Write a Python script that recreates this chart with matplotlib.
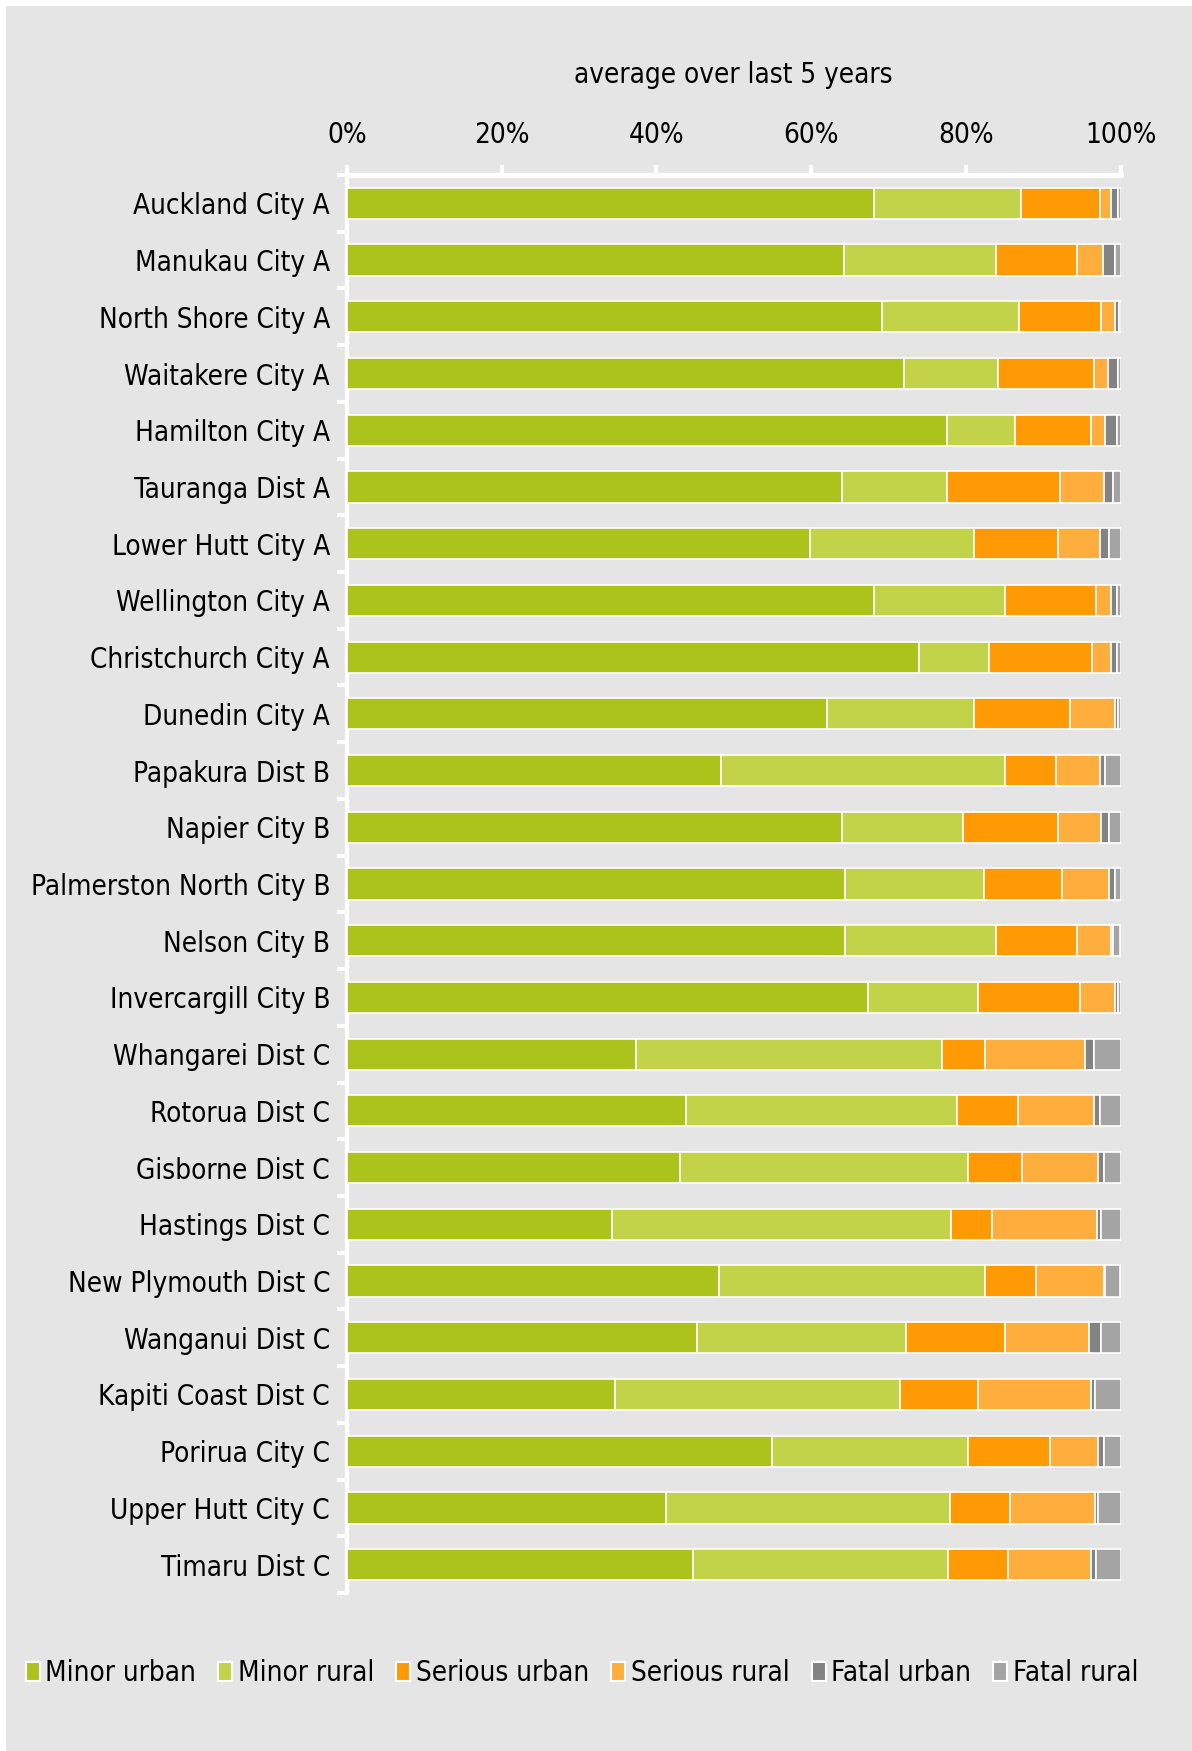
import numpy as np
import matplotlib
matplotlib.use("Agg")
import matplotlib.pyplot as plt
from matplotlib import font_manager as fm
from matplotlib.patches import Patch, Rectangle

# ---------------- data ----------------
categories = [
    "Auckland City A", "Manukau City A", "North Shore City A", "Waitakere City A",
    "Hamilton City A", "Tauranga Dist A", "Lower Hutt City A", "Wellington City A",
    "Christchurch City A", "Dunedin City A", "Papakura Dist B", "Napier City B",
    "Palmerston North City B", "Nelson City B", "Invercargill City B",
    "Whangarei Dist C", "Rotorua Dist C", "Gisborne Dist C", "Hastings Dist C",
    "New Plymouth Dist C", "Wanganui Dist C", "Kapiti Coast Dist C",
    "Porirua City C", "Upper Hutt City C", "Timaru Dist C",
]
minor_urban = [68.1, 64.2, 69.1, 72.0, 77.6, 64.0, 59.8, 68.1, 73.9, 62.0,
               48.3, 64.0, 64.4, 64.4, 67.4, 37.4, 43.8, 43.1, 34.3, 48.1,
               45.3, 34.7, 55.0, 41.2, 44.7]
minor_rural = [19.0, 19.7, 17.7, 12.1, 8.8, 13.6, 21.2, 17.0, 9.1, 19.0,
               36.7, 15.6, 17.9, 19.5, 14.1, 39.5, 35.1, 37.2, 43.8, 34.4,
               26.9, 36.8, 25.3, 36.7, 33.0]
serious_urban = [10.2, 10.5, 10.7, 12.5, 9.8, 14.6, 10.9, 11.7, 13.3, 12.4,
                 6.7, 12.3, 10.1, 10.5, 13.3, 5.6, 7.8, 6.9, 5.3, 6.5,
                 12.9, 10.0, 10.6, 7.8, 7.7]
serious_rural = [1.4, 3.3, 1.7, 1.8, 1.8, 5.6, 5.4, 1.9, 2.5, 5.8,
                 5.6, 5.6, 6.1, 4.4, 4.4, 12.9, 9.9, 9.9, 13.5, 8.8,
                 10.8, 14.7, 6.2, 11.0, 10.8]
fatal_urban = [1.0, 1.5, 0.6, 1.3, 1.5, 1.2, 1.2, 0.8, 0.7, 0.5,
               0.7, 1.0, 0.8, 0.2, 0.5, 1.1, 0.7, 0.7, 0.6, 0.2,
               1.5, 0.5, 0.7, 0.4, 0.6]
fatal_rural = [0.3, 0.8, 0.2, 0.3, 0.5, 1.0, 1.5, 0.5, 0.5, 0.3,
               2.0, 1.5, 0.7, 0.9, 0.3, 3.5, 2.7, 2.2, 2.5, 1.9,
               2.6, 3.3, 2.2, 2.9, 3.2]
series_names = ["Minor urban", "Minor rural", "Serious urban",
                "Serious rural", "Fatal urban", "Fatal rural"]
series_colors = ["#acc31c", "#c2d249", "#ff9a05", "#ffad3c", "#838383", "#a4a4a4"]
x_ticks = [0, 20, 40, 60, 80, 100]
x_tick_labels = ["0%", "20%", "40%", "60%", "80%", "100%"]
title_text = "average over last 5 years"

# ---------------- fonts ----------------
names = {f.name for f in fm.fontManager.ttflist}
if "Liberation Sans Narrow" in names:
    FAMILY = ["Liberation Sans Narrow", "DejaVu Sans"]
    FS = 22
    STRETCH = "normal"
else:
    FAMILY = ["DejaVu Sans"]
    cond = any(f.name == "DejaVu Sans" and str(f.stretch) in ("condensed", "semi-condensed")
               for f in fm.fontManager.ttflist)
    STRETCH = "condensed" if cond else "normal"
    FS = 20 if cond else 18
plt.rcParams["font.family"] = FAMILY
plt.rcParams["font.stretch"] = STRETCH

# ---------------- figure ----------------
W, H = 1192, 1751
fig = plt.figure(figsize=(W / 100, H / 100), dpi=100)
fig.patch.set_facecolor("white")
BG = "#e5e5e5"
fig.add_artist(Rectangle((6 / W, 0), 1 - 6 / W, 1 - 6 / H, transform=fig.transFigure,
                         facecolor=BG, edgecolor="none", zorder=-10))

x0, x1 = 346.7, 1120.7
y_top, y_bot = 175.0, 1593.0
ax = fig.add_axes([x0 / W, 1 - y_bot / H, (x1 - x0) / W, (y_bot - y_top) / H])
ax.set_facecolor(BG)

series = [minor_urban, minor_rural, serious_urban, serious_rural, fatal_urban, fatal_rural]
ypos = np.arange(len(categories))
left = np.zeros(len(categories))
for vals, name, col in zip(series, series_names, series_colors):
    v = np.array(vals, dtype=float)
    ax.barh(ypos, v, left=left, height=0.55, color=col, edgecolor="white",
            linewidth=1.2, label=name, zorder=3)
    left += v

ax.set_xlim(0, 100)
ax.set_ylim(len(categories) - 0.5, -0.5)

for s in ["right", "bottom"]:
    ax.spines[s].set_visible(False)
ax.spines["top"].set_color("white")
ax.spines["top"].set_linewidth(3.8)
ax.spines["top"].set_capstyle("round")
ax.spines["left"].set_color("white")
ax.spines["left"].set_linewidth(3.0)
ax.spines["left"].set_capstyle("round")

ax.xaxis.tick_top()
ax.set_xticks(x_ticks)
ax.set_xticklabels(x_tick_labels)
ax.tick_params(axis="x", which="major", direction="out", length=7, width=3,
               color="white", pad=12, labelsize=FS, labelcolor="black")

ax.set_yticks(ypos)
ax.set_yticklabels(categories)
ax.tick_params(axis="y", which="major", length=0, pad=12, labelsize=FS, labelcolor="black")
ax.set_yticks(np.arange(-0.5, len(categories), 1.0), minor=True)
ax.tick_params(axis="y", which="minor", direction="out", length=7, width=3, color="white")

fig.text((x0 + x1) / 2 / W, 1 - 75 / H, title_text, ha="center", va="center",
         fontsize=FS, color="black")

handles = [Patch(facecolor=c, edgecolor="white", linewidth=1.5) for c in series_colors]
leg = fig.legend(handles, series_names, loc="center", ncol=6,
                 bbox_to_anchor=(582 / W, 1 - 1673 / H), frameon=False,
                 fontsize=FS, handlelength=0.5, handleheight=0.7, handletextpad=0.2,
                 columnspacing=0.8, borderaxespad=0)

fig.savefig("out.png", dpi=100, facecolor=fig.get_facecolor())
